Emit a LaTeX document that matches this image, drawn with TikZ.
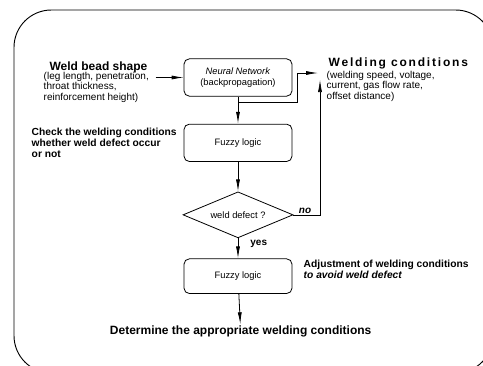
\documentclass[tikz,border=0pt]{standalone}
\usepackage{fontspec}
\setmainfont{Liberation Sans}
\usepackage{tikz}
\usetikzlibrary{arrows.meta,shapes.geometric}

\begin{document}
\begin{tikzpicture}[->,>={Latex[length=9pt,width=3pt]},x=0.75pt,y=-0.75pt,
                    line width=0.6pt]
  \tikzstyle{every node}=[inner sep=1pt]
  \tikzstyle{box}=[draw,rounded corners=4pt,minimum width=81pt,minimum height=28pt,
                   align=center,font=\fontsize{7}{8.4}\selectfont]
  \tikzstyle{test}=[draw,diamond,aspect=2.4,minimum width=82.5pt,minimum height=34.5pt,
                    inner sep=0pt,font=\fontsize{7}{8.4}\selectfont]
  \tikzstyle{head}=[font=\fontsize{9}{10}\selectfont\bfseries]
  \tikzstyle{note}=[anchor=west,align=left,font=\fontsize{7.7}{8.3}\selectfont\bfseries]
  \tikzstyle{list}=[anchor=west,align=left,font=\fontsize{7.5}{7.9}\selectfont]
  \tikzstyle{tag}=[font=\fontsize{7.5}{8}\selectfont\bfseries]

  \useasboundingbox (0,0) rectangle (483,365);
  \begin{scope}
    \clip (0,0) rectangle (483,365);
    \draw[-,line width=0.7pt,rounded corners=28pt] (14,10) rectangle (493,373);
  \end{scope}

  \node[box]            (nn)  at (238,77.5)                 {\textit{Neural Network}\\(backpropagation)};
  \node[box]            (fz)  [below of=nn,node distance=49pt] {Fuzzy logic};
  \node[test]           (dd)  [below of=fz,node distance=54pt] {weld defect ?};
  \node[box,minimum height=26pt] (adj) [below of=dd,node distance=46pt] {Fuzzy logic};
  \node[head]           (res) [below of=adj,node distance=41.6pt,xshift=2pt]
                              {Determine the appropriate welding conditions};

  \node[head]           (wb)  at (98.5,67)  {Weld bead shape};
  \node[list]           (wbl) at (42,87)    {(leg length, penetration,\\ throat thickness,\\ reinforcement height)};
  \node[head,anchor=west] (wc) at (327,63)  {\addfontfeatures{LetterSpace=15}Welding conditions};
  \node[list]           (wcl) at (325,86)   {(welding speed, voltage,\\ current, gas flow rate,\\ offset distance)};
  \node[note]           (chk) at (30,143)   {Check the welding conditions\\whether weld defect occur\\or not};
  \node[note]           (adn) at (302,269)  {Adjustment of welding conditions\\\textit{to avoid weld defect}};

  \coordinate (wbo) at ([xshift=-21pt]nn.west);
  \coordinate (br)  at ([yshift=-4pt]nn.south);
  \coordinate (wci) at (318,73);
  \coordinate (wcu) at (320,80);

  \path (wbo) edge []           node {} (nn.west)
        (nn)  edge []           node {} (fz)
        (fz)  edge []           node {} (dd)
        (dd)  edge []           node[tag,right=8pt,pos=0.3] {yes} (adj)
        (adj) edge []           node {} (res);
  \draw (br) -| ([xshift=4pt]nn.east |- wci) -- (wci);
  \draw[line width=0.45pt] (dd.east) -| node[tag,above,pos=0.22] {\textit{no}} (wcu);
\end{tikzpicture}
\end{document}
